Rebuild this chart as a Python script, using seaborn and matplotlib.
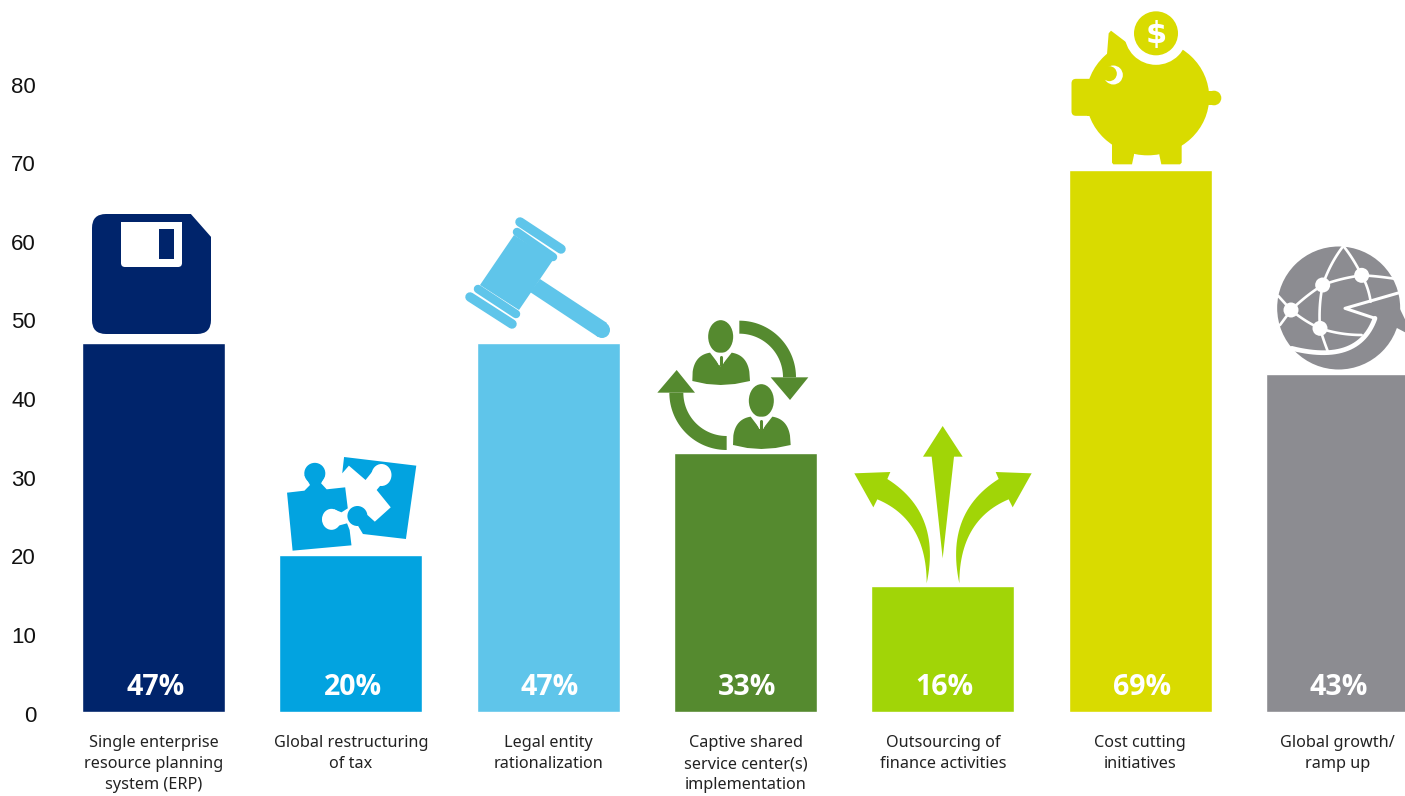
import numpy as np
import pandas as pd
import matplotlib
matplotlib.use("Agg")
import matplotlib.pyplot as plt
from matplotlib.patches import Circle, Ellipse, FancyBboxPatch, Polygon
from matplotlib.transforms import ScaledTranslation
import seaborn as sns

categories = [
    "Single enterprise\nresource planning\nsystem (ERP)",
    "Global restructuring\nof tax",
    "Legal entity\nrationalization",
    "Captive shared\nservice center(s)\nimplementation",
    "Outsourcing of\nfinance activities",
    "Cost cutting\ninitiatives",
    "Global growth/\nramp up",
]
values = [47, 20, 47, 33, 16, 69, 43]
pct_labels = ["47%", "20%", "47%", "33%", "16%", "69%", "43%"]
colors = ["#00246b", "#02a3e0", "#5fc5ea", "#558a2f", "#a1d507", "#d9db00", "#8c8c91"]
y_ticks = [0, 10, 20, 30, 40, 50, 60, 70, 80]

W, H = 1405, 796
NAVY, BLUE, SKY, GREEN, LIME, YELLOW, GREY = colors

sns.set_theme(style="white")
plt.rcParams["font.family"] = ["Liberation Sans", "DejaVu Sans"]


def arc(cx, cy, r, a0, a1, n=40):
    t = np.radians(np.linspace(a0, a1, n))
    return np.column_stack([cx + r * np.cos(t), cy + r * np.sin(t)])


def curve(p0, p1, p2, n=30):
    t = np.linspace(0, 1, n)[:, None]
    p0, p1, p2 = np.array(p0), np.array(p1), np.array(p2)
    return (1 - t) ** 2 * p0 + 2 * t * (1 - t) * p1 + t ** 2 * p2


def poly(ax, pts, color, z=3):
    ax.add_patch(Polygon(pts, closed=True, fc=color, ec="none", zorder=z))


def floppy(ax):
    ax.add_patch(FancyBboxPatch((106, 228), 91, 92, boxstyle="round,pad=14", fc=NAVY, ec="none"))
    poly(ax, [(190, 213), (212, 213), (212, 238)], "white", 4)
    ax.add_patch(FancyBboxPatch((125, 226), 53, 37, boxstyle="round,pad=4", fc="white", ec="none", zorder=5))
    poly(ax, [(121, 222), (182, 222), (182, 245), (121, 245)], "white", 5)
    poly(ax, [(159, 229), (174, 229), (174, 259), (159, 259)], NAVY, 6)


def puzzle(ax):
    z = lambda pts: [(60 + x / 2.7, 200 + y / 3) for x, y in pts]
    right = [(767, 771), (962, 797), (934, 1017), (818, 1002), (805, 978), (830, 945), (850, 965),
             (893, 922), (855, 870), (870, 850), (843, 815), (825, 840), (780, 797), (762, 820)]
    left = [(613, 878), (660, 872), (675, 855), (660, 825), (716, 825), (705, 850), (720, 868), (770, 862),
            (777, 925), (760, 937), (740, 928), (725, 985), (775, 970), (782, 990), (787, 1036), (628, 1052)]
    poly(ax, z(right), BLUE)
    ax.add_patch(Ellipse(z([(868, 825)])[0], 20, 22, fc="white", ec="none", zorder=3))
    ax.add_patch(Ellipse(z([(803, 948)])[0], 20, 20, fc=BLUE, ec="none", zorder=4))
    poly(ax, z(left), BLUE, 5)
    ax.add_patch(Ellipse(z([(688, 820)])[0], 21, 21, fc=BLUE, ec="none", zorder=5))
    ax.add_patch(Ellipse(z([(733, 958)])[0], 19, 21, fc="white", ec="none", zorder=6))


def gavel(ax):
    poly(ax, [(514, 235), (553, 260), (519, 310), (480, 285)], SKY)
    poly(ax, [(540, 279), (607, 323), (598, 337), (530, 292)], SKY)
    ax.add_patch(Circle((602, 330), 8, fc=SKY, ec="none", zorder=3))
    for (x0, y0, x1, y1, w) in [(520, 222, 561, 249, 9.5), (517, 232, 553, 257, 8.5),
                                (478, 289, 516, 314, 8.5), (470, 297, 512, 324, 9.5)]:
        ax.plot([x0, x1], [y0, y1], color=SKY, lw=w * 0.72, solid_capstyle="round", zorder=3)


def person(ax, dx, dy):
    z = lambda pts: [(640 + (x + dx) / 3, 300 + (y + dy) / 3) for x, y in pts]
    ax.add_patch(Ellipse(z([(242, 110)])[0], 25, 33, fc=GREEN, ec="none", zorder=3))
    body = np.vstack([[(157, 243)], curve((158, 215), (165, 165), (210, 158)), [(242, 200)],
                      curve((275, 158), (320, 165), (328, 215)), [(330, 243), (285, 252), (242, 255), (200, 252)]])
    poly(ax, z(body), GREEN)
    poly(ax, z([(218, 158), (265, 158), (248, 195), (236, 195)]), "white", 4)
    ax.plot(*zip(*z([(242, 170), (242, 195)])), color=GREEN, lw=2.2, zorder=5)


def people(ax):
    person(ax, 0, 0)
    person(ax, 122, 192)
    z = lambda pts: [(640 + x / 3, 300 + y / 3) for x, y in pts]
    ring1 = np.vstack([arc(298, 232, 170, -90, 0), arc(298, 232, 131, 0, -90)])
    poly(ax, z(ring1), GREEN)
    poly(ax, z([(392, 232), (505, 232), (450, 300)]), GREEN)
    ring2 = np.vstack([arc(260, 278, 172, 90, 180), arc(260, 278, 130, 180, 90)])
    poly(ax, z(ring2), GREEN)
    poly(ax, z([(52, 278), (165, 278), (110, 210)]), GREEN)


def three_arrows(ax):
    z = lambda pts: [(640 + x / 3, 300 + y / 3) for x, y in pts]
    poly(ax, z([(908, 378), (968, 470), (942, 470), (908, 775), (875, 470), (849, 470)]), LIME)
    outer = curve((742, 537), (905, 640), (860, 850))
    inner = curve((860, 850), (860, 660), (712, 598))
    left = np.vstack([[(643, 520), (751, 516)], outer, inner, [(700, 622)]])
    poly(ax, z(left), LIME)
    right = left.copy()
    right[:, 0] = 1818 - right[:, 0]
    poly(ax, z(right), LIME)


def piggy(ax):
    z = lambda pts: [(1050 + x / 3, y / 3) for x, y in pts]
    ax.add_patch(Ellipse(z([(293, 292)])[0], 123, 116, fc=YELLOW, ec="none", zorder=3))
    poly(ax, z([(170, 175), (176, 100), (183, 92), (233, 130), (260, 190)]), YELLOW)
    ax.add_patch(FancyBboxPatch(z([(78, 250)])[0], 20, 28, boxstyle="round,pad=4.5", fc=YELLOW, ec="none", zorder=3))
    poly(ax, z([(110, 237), (140, 237), (140, 348), (110, 348)]), YELLOW)
    poly(ax, z([(460, 272), (492, 272), (492, 316), (460, 316)]), YELLOW)
    ax.add_patch(Circle(z([(492, 294)])[0], 7.3, fc=YELLOW, ec="none", zorder=3))
    poly(ax, z([(186, 420), (252, 420), (252, 465), (246, 493), (190, 493), (186, 488)]), YELLOW)
    poly(ax, z([(328, 420), (395, 420), (395, 488), (390, 493), (334, 493), (328, 465)]), YELLOW)
    ax.add_patch(Circle(z([(318, 100)])[0], 31.5, fc="white", ec="none", zorder=4))
    ax.add_patch(Circle(z([(318, 100)])[0], 22, fc=YELLOW, ec="none", zorder=5))
    ax.text(*z([(318, 102)])[0], "$", color="white", fontsize=22, fontweight="bold",
            family="DejaVu Sans", ha="center", va="center", zorder=6)
    ax.add_patch(Circle(z([(190, 225)])[0], 9.5, fc="white", ec="none", zorder=6))
    ax.add_patch(Circle(z([(178, 221)])[0], 7.5, fc=YELLOW, ec="none", zorder=7))


def globe(ax):
    z = lambda pts: [(1050 + x / 3, y / 3) for x, y in pts]
    ax.add_patch(Circle(z([(866, 924)])[0], 61.5, fc=GREY, ec="none", zorder=3))
    poly(ax, z([(1037, 900), (1090, 1010), (1037, 982), (975, 950), (933, 925)]), GREY, 4)
    lines = [[(880, 738), (840, 790), (818, 855)], [(880, 738), (910, 775), (935, 826)],
             [(818, 855), (870, 835), (935, 826)], [(935, 826), (980, 828), (1032, 836)],
             [(935, 826), (955, 860), (962, 905)], [(818, 855), (805, 920), (810, 985)],
             [(818, 855), (770, 885), (723, 930)], [(723, 930), (765, 965), (810, 985)],
             [(723, 930), (705, 910), (685, 888)], [(723, 930), (705, 955), (690, 975)],
             [(810, 985), (870, 1005), (935, 1005)], [(810, 985), (820, 1020), (835, 1058)]]
    for p0, p1, p2 in lines:
        ax.plot(*zip(*z(curve(p0, p1, p2))), color="white", lw=1.9, zorder=5)
    ax.plot(*zip(*z([(1048, 878), (885, 925), (975, 955)])), color="white", lw=2.2, zorder=5)
    ax.plot(*zip(*z(curve((975, 955), (925, 1095), (725, 1045)))), color="white", lw=3.4, zorder=5)
    for c in [(723, 930), (818, 855), (935, 826), (810, 985)]:
        ax.add_patch(Circle(z([c])[0], 7.5, fc="white", ec="none", zorder=6))


def main():
    df = pd.DataFrame({"Initiative": categories, "Share": values})

    fig = plt.figure(figsize=(W / 100, H / 100), dpi=100)
    ax = fig.add_axes([50 / W, 84 / H, (W - 50) / W, 712 / H])
    sns.barplot(data=df, x="Initiative", y="Share", hue="Initiative", palette=colors,
                width=0.725, saturation=1, legend=False, ax=ax)

    ax.set_xlim((50 - 153.6) / 197.33, (W - 153.6) / 197.33)
    ax.set_ylim(0, 712 / 7.86)
    ax.set_xlabel("")
    ax.set_ylabel("")
    ax.set_yticks(y_ticks)
    ax.tick_params(axis="y", length=0, pad=10, labelsize=16, labelcolor="#111111")
    ax.tick_params(axis="x", length=0, pad=16.5)
    # the y labels sit a pixel or so under their tick position
    nudge = ScaledTranslation(0, -1.5 / 100, fig.dpi_scale_trans)
    for label in ax.get_yticklabels():
        label.set_transform(label.get_transform() + nudge)
    for label in ax.get_xticklabels():
        label.set_family("Noto Sans")
        label.set_fontsize(11.7)
        label.set_color("#222222")
        label.set_linespacing(1.44)
    sns.despine(ax=ax, left=True, bottom=True)

    for i, txt in enumerate(pct_labels):
        ax.text(i + 0.008, 3.1, txt, color="white", fontsize=20.5, fontweight="bold", family="Open Sans",
                ha="center", va="center")

    # icons sit on an overlay measured in pixels
    icons = fig.add_axes([0, 0, 1, 1])
    icons.set_xlim(0, W)
    icons.set_ylim(H, 0)
    icons.axis("off")
    floppy(icons)
    puzzle(icons)
    gavel(icons)
    people(icons)
    three_arrows(icons)
    piggy(icons)
    globe(icons)

    fig.savefig("out.png", dpi=100)


if __name__ == "__main__":
    main()
